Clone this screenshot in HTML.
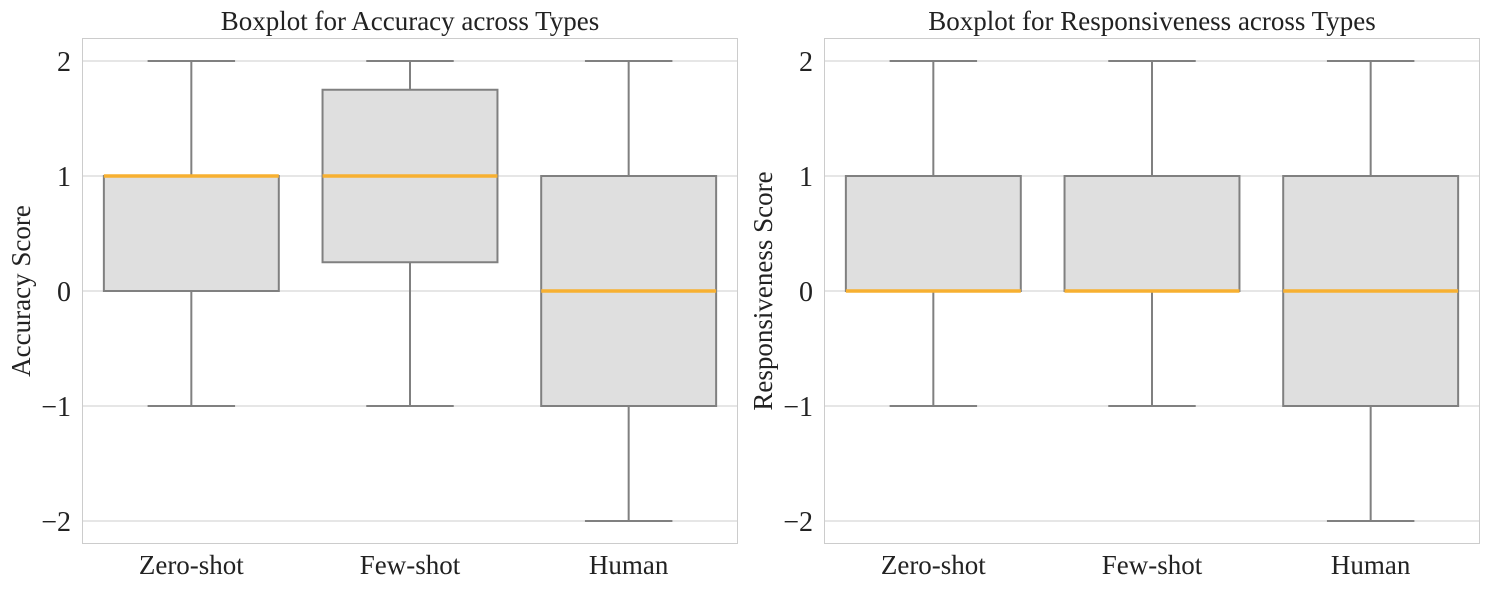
<!DOCTYPE html>
<html><head><meta charset="utf-8"><style>
body{margin:0;background:#fff;width:1490px;height:590px;overflow:hidden}
svg text{font-family:"Liberation Serif",serif;fill:#222}
</style></head><body>
<svg id="c" width="1490" height="590"></svg>
<script>
const categories=["Zero-shot","Few-shot","Human"];
const yTicks=[2,1,0,-1,-2];
const yTickLabels=["2","1","0","\u22121","\u22122"];
const accMin=[-1,-1,-2], accQ1=[0,0.25,-1], accMed=[1,1,0], accQ3=[1,1.75,1], accMax=[2,2,2];
const resMin=[-1,-1,-2], resQ1=[0,0,-1], resMed=[0,0,0], resQ3=[1,1,1], resMax=[2,2,2];
const titles=["Boxplot for Accuracy across Types","Boxplot for Responsiveness across Types"];
const ylabels=["Accuracy Score","Responsiveness Score"];
const NS="http://www.w3.org/2000/svg";
const svg=document.getElementById('c');
function mk(t,a,p){const e=document.createElementNS(NS,t);for(const k in a)e.setAttribute(k,a[k]);(p||svg).appendChild(e);return e;}
const panels=[{x0:82,stats:[accMin,accQ1,accMed,accQ3,accMax]},{x0:824,stats:[resMin,resQ1,resMed,resQ3,resMax]}];
const W=656,T=38,B=544;
const yS=v=>291-v*115;
panels.forEach((p,pi)=>{
  const g=mk('g',{});
  
  
  const xS=i=>p.x0+W*(i+0.5)/3;
  const bw=W/3*0.8;
  yTicks.forEach((v,i)=>{
    const l=mk('line',{x1:p.x0,x2:p.x0+W,y1:yS(v),y2:yS(v),stroke:'#cccccc','stroke-width':1},g);
    
    const t=mk('text',{x:p.x0-11,y:yS(v)+10,'text-anchor':'end','font-size':28},g);
    t.textContent=yTickLabels[i];
    
  });
  const fr=mk('rect',{x:p.x0+0.5,y:T+0.5,width:W-1,height:B-T-1,fill:'none',stroke:'#cccccc','stroke-width':1},g);
  
  const [mnA,q1A,mdA,q3A,mxA]=p.stats;
  categories.forEach((c,i)=>{
    const mn=mnA[i],q1=q1A[i],md=mdA[i],q3=q3A[i],mx=mxA[i];
    const cx=xS(i);
    const bg=mk('g',{},g);
    
    const ln=(x1,y1,x2,y2)=>mk('line',{x1,y1,x2,y2,stroke:'#808080','stroke-width':2},bg);
    ln(cx,yS(q3),cx,yS(mx));ln(cx,yS(q1),cx,yS(mn));
    ln(cx-bw/4,yS(mx),cx+bw/4,yS(mx));ln(cx-bw/4,yS(mn),cx+bw/4,yS(mn));
    mk('rect',{x:cx-bw/2,y:yS(q3),width:bw,height:Math.max(yS(q1)-yS(q3),0.01),fill:'#dfdfdf',stroke:'#808080','stroke-width':2},bg);
    const m=mk('line',{x1:cx-bw/2,x2:cx+bw/2,y1:yS(md),y2:yS(md),stroke:'#f7b031','stroke-width':3.5},bg);
    
    const t=mk('text',{x:cx,y:574,'text-anchor':'middle','font-size':27},g);
    t.textContent=c;
  });
  const tt=mk('text',{x:p.x0+W/2,y:30,'text-anchor':'middle','font-size':27},g);
  tt.textContent=titles[pi];
  const yl=mk('text',{x:0,y:0,'text-anchor':'middle','font-size':27,transform:`translate(${p.x0-52},${(T+B)/2}) rotate(-90)`},g);
  yl.textContent=ylabels[pi];
});
</script>
</body></html>
